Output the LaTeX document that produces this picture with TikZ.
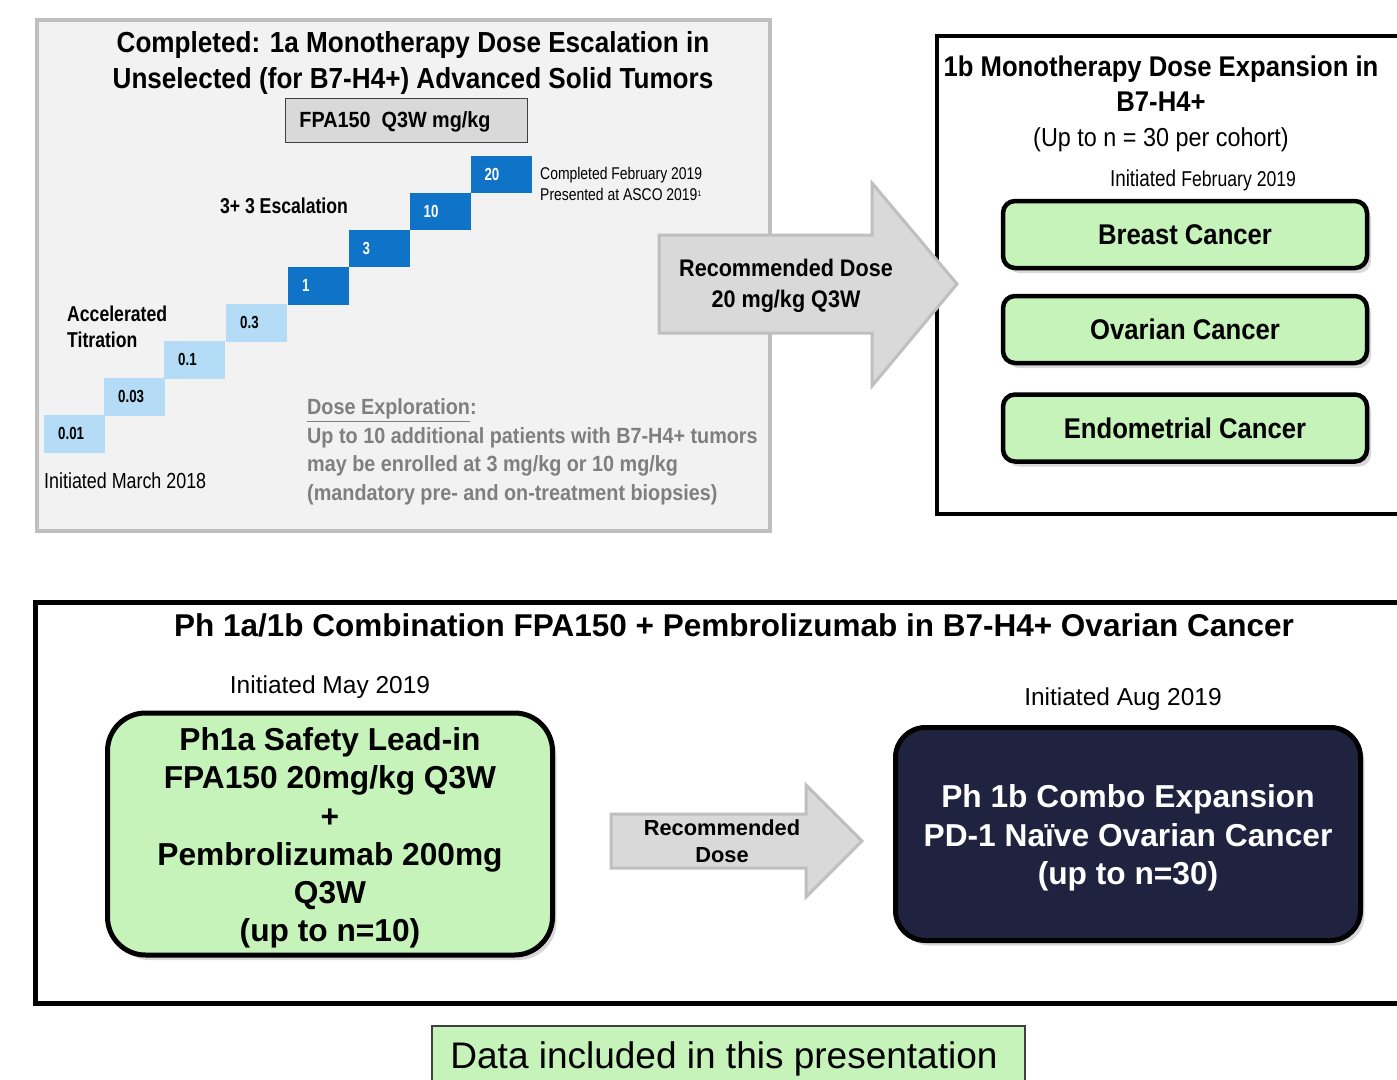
\documentclass[tikz,border=0pt]{standalone}
\usepackage{fontspec}
\setmainfont{Liberation Sans}
\newfontfamily\nA[FakeStretch=0.9]{Liberation Sans}
\newfontfamily\nB[FakeStretch=0.82]{Liberation Sans}
\newfontfamily\nC[FakeStretch=0.76]{Liberation Sans}
\usetikzlibrary{shadows}
\definecolor{boxgray}{HTML}{F2F2F2}
\definecolor{bordgray}{HTML}{BFBFBF}
\definecolor{fpagray}{HTML}{D9D9D9}
\definecolor{arrgray}{HTML}{D9D9D9}
\definecolor{lblue}{HTML}{B4DCF6}
\definecolor{dblue}{HTML}{0F74C8}
\definecolor{lgreen}{HTML}{C6F3B9}
\definecolor{navy}{HTML}{1F2340}
\definecolor{txtgray}{HTML}{7F7F7F}
\definecolor{edgegray}{HTML}{404040}
\newcommand\fsz[2]{\fontsize{#1}{#2}\selectfont}
\begin{document}
\begin{tikzpicture}[x=1pt,y=-1pt,
  stepbase/.style={minimum width=61pt, minimum height=37.5pt, inner xsep=14pt, inner ysep=0pt,
     text width=33pt, align=left, anchor=north west, font=\nC\bfseries\fsz{17.5}{20}},
  lstep/.style={stepbase, fill=lblue, text=black},
  dstep/.style={stepbase, fill=dblue, text=white},
  softshadow/.style={drop shadow={opacity=0.3, shadow xshift=4pt, shadow yshift=-5pt}},
  cancer/.style={draw, line width=4.5pt, rounded corners=12pt, fill=lgreen,
     minimum width=364pt, minimum height=67pt, font=\nA\bfseries\fsz{28.5}{32}, softshadow},
  blockarrow/.style={fill=arrgray, draw=bordgray, line width=3pt, line join=miter},
]
\clip (0,0) rectangle (1397,1079);
\fill[white] (0,0) rectangle (1397,1079);

% ---------- top-left escalation box ----------
\node[draw=bordgray, line width=3.5pt, fill=boxgray, minimum width=733pt, minimum height=511pt,
      anchor=north west, inner sep=0pt] (escbox) at (35,18) {};
\node[font=\nA\bfseries\fsz{29}{36}, align=center] (esctitle) at (413,63)
  {Completed: 1a Monotherapy Dose Escalation in\\Unselected (for B7-H4+) Advanced Solid Tumors};
\node[draw=edgegray, fill=fpagray, line width=1.5pt, minimum width=242pt, minimum height=44pt,
      inner sep=0pt] (fpa) at (406.5,120.5) {};
\node[font=\nA\bfseries\fsz{22}{26}] (fpatxt) at (395,122) {FPA150\ \ Q3W mg/kg};

\node[lstep] (s1) at (44.0,415.0) {0.01};
\node[lstep] (s2) at (104.0,378.0) {0.03};
\node[lstep] (s3) at (164.0,341.0) {0.1};
\node[lstep] (s4) at (226.0,304.0) {0.3};
\node[dstep] (s5) at (288.0,267.0) {1};
\node[dstep] (s6) at (348.5,229.5) {3};
\node[dstep] (s7) at (409.4,192.4) {10};
\node[dstep] (s8) at (470.3,155.3) {20};

\node[font=\nB\bfseries\fsz{21.5}{26}] (esc33) at (284,206) {3+ 3 Escalation};
\node[font=\nB\bfseries\fsz{21.5}{26}, align=left, anchor=west, inner sep=0pt] (accel) at (67,327)
  {Accelerated\\Titration};
\node[font=\nB\fsz{21.8}{26}, anchor=west, inner sep=0pt] (initmar) at (44,481) {Initiated March 2018};
\node[font=\nB\fsz{17}{21}, align=left, anchor=west, inner sep=0pt] (compfeb) at (540,184)
  {Completed February 2019\\Presented at ASCO 2019\raisebox{4pt}{\fsz{8}{9}1}};
\node[font=\nA\bfseries\fsz{22}{28.5}, text=txtgray, align=left, anchor=west, inner sep=0pt] (doseexp) at (307,452)
  {\underline{Dose Exploration}:\\Up to 10 additional patients with B7-H4+ tumors\\may be enrolled at 3 mg/kg or 10 mg/kg\\(mandatory pre- and on-treatment biopsies)};

% ---------- top-right expansion box ----------
\node[draw, line width=4pt, minimum width=480pt, minimum height=478pt, anchor=north west, inner sep=0pt]
  (expbox) at (935,34) {};
\node[font=\nA\bfseries\fsz{28.5}{35}, align=center] (exptitle) at (1161,83.5)
  {1b Monotherapy Dose Expansion in\\B7-H4+};
\node[font=\nA\fsz{26}{30}] (cohort) at (1161,139.5) {(Up to n = 30 per cohort)};
\node[font=\nB\fsz{23}{27}] (initfeb) at (1203,180) {Initiated {\fsz{21.5}{27}February 2019}};
\node[cancer] (breast) at (1185,234.5) {Breast Cancer};
\node[cancer] (ovarian) at (1185,329.5) {Ovarian Cancer};
\node[cancer] (endo) at (1185,428) {Endometrial Cancer};

% ---------- top arrow ----------
\draw[blockarrow] (659,235) -- (872,235) -- (872,183) -- (957,284) -- (872,386) -- (872,333) -- (659,333) -- cycle;
\node[font=\nA\bfseries\fsz{24}{31}, align=center] (rdtop) at (786,286) {Recommended Dose\\20 mg/kg Q3W};

% ---------- bottom combination box ----------
\node[draw, line width=5pt, minimum width=1400pt, minimum height=401pt, anchor=north west, inner sep=0pt]
  (combobox) at (33,600) {};
\node[font=\bfseries\fsz{31.5}{36}] (combotitle) at (734,625)
  {Ph 1a/1b Combination FPA150 + Pembrolizumab in B7-H4+ Ovarian Cancer};
\node[font=\fsz{24.5}{28}] (initmay) at (330,687) {Initiated May 2019};
\node[draw, line width=5pt, rounded corners=38pt, fill=lgreen, minimum width=445pt, minimum height=242pt,
      softshadow] (leadin) at (330,834) {};
\node[align=center, font=\bfseries\fsz{31.7}{38.2}] (leadintxt) at (330,838)
  {Ph1a Safety Lead-in\\FPA150 20mg/kg Q3W\\+\\Pembrolizumab 200mg\\Q3W\\(up to n=10)};
\draw[blockarrow] (611,814) -- (806,814) -- (806,785) -- (862,841) -- (806,897) -- (806,868) -- (611,868) -- cycle;
\node[font=\bfseries\fsz{21.8}{27}, align=center] (rdbot) at (722,841) {Recommended\\Dose};
\node[font=\fsz{24.5}{28}] (initaug) at (1123,699) {Initiated Aug 2019};
\node[draw, line width=5pt, rounded corners=30pt, fill=navy, minimum width=465pt, minimum height=213pt,
      softshadow] (combo) at (1128,834) {};
\node[align=center, text=white, font=\bfseries\fsz{31.7}{38.5}] (combotxt) at (1128,838)
  {Ph 1b Combo Expansion\\PD-1 Na\"ive Ovarian Cancer\\(up to n=30)};

% ---------- data box ----------
\node[draw=edgegray, line width=1.5pt, fill=lgreen, minimum width=593pt, minimum height=80pt,
      anchor=north west, inner sep=0pt] (databox) at (431,1025) {};
\node[font=\fsz{37}{40}] (datatxt) at (724,1059) {Data included in this presentation};
\end{tikzpicture}
\end{document}
